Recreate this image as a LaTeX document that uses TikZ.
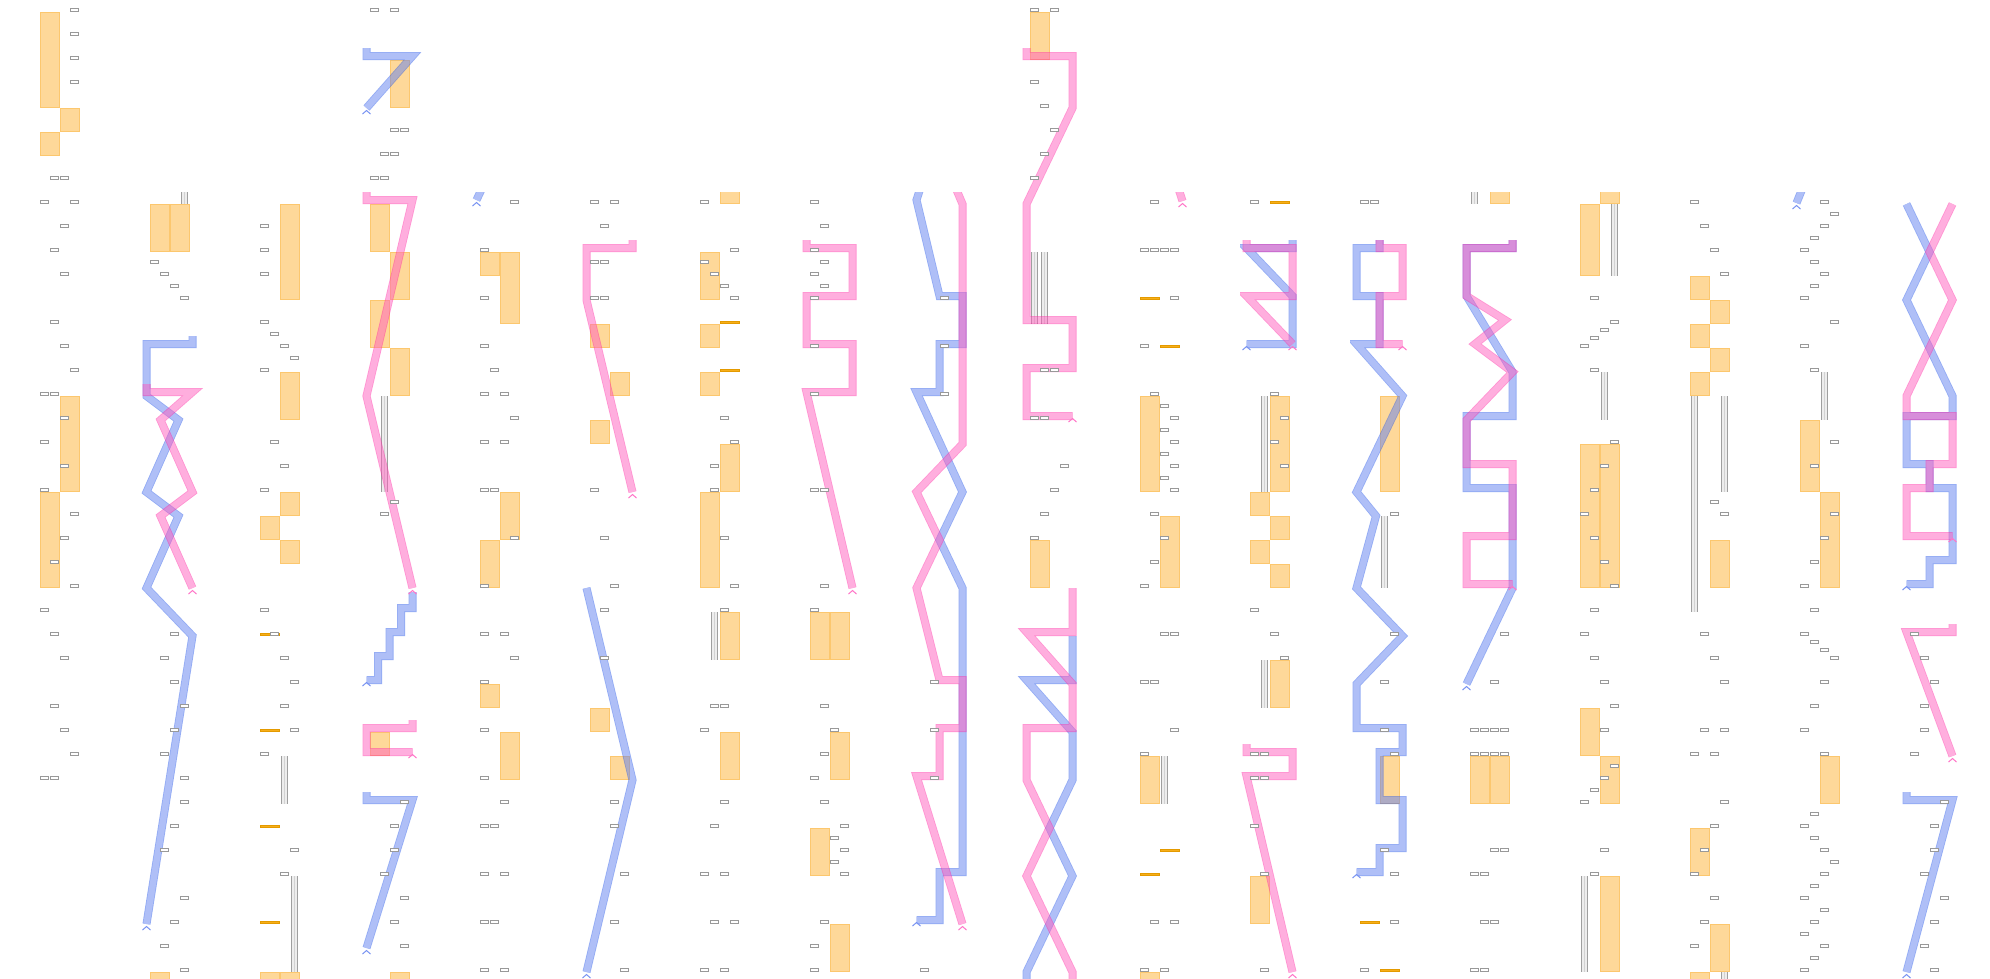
\documentclass[tikz,border=0pt]{standalone}
\definecolor{barcol}{HTML}{FED899}
\definecolor{baredge}{HTML}{FCC76E}
\definecolor{markcol}{HTML}{F6AE1A}
\definecolor{markedge}{HTML}{E49A00}
\definecolor{trackblue}{HTML}{6080F0}
\definecolor{trackpink}{HTML}{FF5EBE}
\definecolor{blueedge}{HTML}{2A5AEA}
\definecolor{pinkedge}{HTML}{FF2AA6}
\definecolor{boxedge}{HTML}{999999}
\tikzset{
  cellbox/.style={draw=boxedge,fill=white,line width=.6pt},
  orangebar/.style={fill=barcol,draw=baredge,line width=.8pt},
  markbar/.style={fill=markcol,draw=markedge,line width=.4pt},
  trackrim/.style={line width=8pt,line join=miter},
  trackcore/.style={line width=6.3pt,line join=miter},
  bluetip/.style={draw=trackblue!85,line width=1pt},
  pinktip/.style={draw=trackpink!85,line width=1pt},
}
\newcommand\bluepath[1]{\begin{scope}[transparency group,opacity=.5]\draw[trackrim,blueedge] #1;\draw[trackcore,trackblue] #1;\end{scope}}
\newcommand\pinkpath[1]{\begin{scope}[transparency group,opacity=.5]\draw[trackrim,pinkedge] #1;\draw[trackcore,trackpink] #1;\end{scope}}
\newcommand\cellboxes[1]{\foreach \lx/\ya in {#1}{\draw[cellbox] ({10*\lx+.7},{\ya-3.3}) rectangle +(8,2.6);}}
\newcommand\orangebars[1]{\foreach \lx/\ya/\yb in {#1}{\draw[orangebar] ({20*\lx+.6},{\ya+.6}) rectangle ({20*\lx+19.4},{\yb-.6});}}
\newcommand\marklines[1]{\foreach \lx/\ya in {#1}{\draw[markbar] ({20*\lx+.6},{\ya-3}) rectangle ({20*\lx+19},{\ya-1.2});}}
\newcommand\stripebars[1]{\foreach \lx/\ya/\yb in {#1}{
  \fill[gray!14] ({10*\lx+1},\ya) rectangle ({10*\lx+8},\yb);
  \draw[gray!75,line width=.9pt] ({10*\lx+1.45},\ya)--({10*\lx+1.45},\yb) ({10*\lx+7.55},\ya)--({10*\lx+7.55},\yb);
  \draw[gray!35,line width=.6pt] ({10*\lx+4.5},\ya)--({10*\lx+4.5},\yb);}}
\newcommand\tracktip[3]{\draw[#1] ({#2-4},{#3+6})--(#2,{#3+2.5})--({#2+4},{#3+6});}
\begin{document}
\begin{tikzpicture}[x=1pt,y=-1pt,line join=miter]
\useasboundingbox[fill=white] (0,0) rectangle (1990,978);
\clip (0,0) rectangle (1990,978);

\begin{scope}[shift={(40,0)}]
\orangebars{0/12/108,1/108/132,0/132/156,1/396/492,0/492/588}
\cellboxes{3/12,3/36,3/60,3/84,1/180,2/180,0/204,3/204,2/228,1/252,2/276,1/324,2/348,3/372,0/396,1/396,2/420,0/444,2/468,0/492,3/516,2/540,1/564,3/588,0/612,1/636,2/660,1/708,2/732,3/756,0/780,1/780}
\end{scope}

\begin{scope}[shift={(150,0)}]
\clip (-10,192) rectangle (60,990);
\orangebars{0/204/252,1/204/252,0/972/990}
\stripebars{3/180/204}
\bluepath{(42.5,336)--(42.5,344)--(-3.5,344)--(-3.5,396)--(28.5,420)--(-3.5,492)--(28.5,516)--(-3.5,588)--(42.5,636)--(-3.5,924)}
\pinkpath{(-3.5,384)--(-3.5,392)--(42.5,392)--(10.5,420)--(42.5,492)--(10.5,516)--(42.5,588)}
\tracktip{bluetip}{-3.5}{924}
\tracktip{pinktip}{42.5}{588}
\cellboxes{0/264,1/276,2/288,3/300,2/636,1/660,2/684,3/708,2/732,1/756,3/780,3/804,2/828,1/852,3/900,2/924,1/948,3/972}
\end{scope}

\begin{scope}[shift={(260,0)}]
\clip (-10,192) rectangle (60,990);
\orangebars{1/204/300,1/372/420,1/492/516,0/516/540,1/540/564,0/972/990,1/972/990}
\stripebars{2/756/804,3/876/972}
\marklines{0/636,0/732,0/828,0/924}
\cellboxes{0/228,0/252,0/276,0/324,1/336,2/348,3/360,0/372,1/444,2/468,0/492,0/612,1/636,2/660,3/684,2/708,3/732,0/756,3/852,2/876}
\end{scope}

\begin{scope}[shift={(370,0)}]
\orangebars{1/60/108,0/204/252,1/252/300,0/300/348,1/348/396,0/732/756,1/972/990}
\stripebars{1/396/492}
\bluepath{(-3.5,48)--(-3.5,56)--(42.5,56)--(-3.5,108)}
\bluepath{(42.5,592)--(42.5,608)--(31,608)--(31,632)--(19.5,632)--(19.5,656)--(8,656)--(8,680)--(-3.5,680)}
\bluepath{(-3.5,792)--(-3.5,800)--(42.5,800)--(-3.5,948)}
\pinkpath{(-3.5,192)--(-3.5,200)--(42.5,200)--(-3.5,396)--(42.5,588)}
\pinkpath{(42.5,720)--(42.5,728)--(-3.5,728)--(-3.5,752)--(42.5,752)}
\tracktip{bluetip}{-3.5}{108}
\tracktip{bluetip}{-3.5}{680}
\tracktip{bluetip}{-3.5}{948}
\tracktip{pinktip}{42.5}{588}
\tracktip{pinktip}{42.5}{752}
\cellboxes{0/12,2/12,2/132,3/132,1/156,2/156,0/180,1/180,2/504,1/516,3/804,2/828,2/852,1/876,3/900,2/924,3/948}
\end{scope}

\begin{scope}[shift={(480,0)}]
\clip (-10,192) rectangle (60,990);
\orangebars{0/252/276,1/252/324,1/492/540,0/540/588,0/684/708,1/732/780}
\bluepath{(5,182)--(-3.5,200)}
\tracktip{bluetip}{-3.5}{200}
\cellboxes{3/204,0/252,0/300,0/348,1/372,0/396,2/396,3/420,0/444,2/444,0/492,1/492,3/540,0/588,0/636,2/636,3/660,0/684,0/732,0/780,2/804,0/828,1/828,0/876,2/876,0/924,1/924,0/972,2/972}
\end{scope}

\begin{scope}[shift={(590,0)}]
\clip (-10,192) rectangle (60,990);
\orangebars{0/324/348,1/372/396,0/420/444,0/708/732,1/756/780}
\bluepath{(-3.5,588)--(42.5,780)--(-3.5,972)}
\pinkpath{(42.5,240)--(42.5,248)--(-3.5,248)--(-3.5,300)--(42.5,492)}
\tracktip{bluetip}{-3.5}{972}
\tracktip{pinktip}{42.5}{492}
\cellboxes{0/204,2/204,1/228,0/264,1/264,0/300,1/300,0/492,1/540,2/588,1/612,1/660,2/804,2/828,3/876,2/924,3/972}
\end{scope}

\begin{scope}[shift={(700,0)}]
\clip (-10,192) rectangle (60,990);
\orangebars{1/180/204,0/252/300,0/324/348,0/372/396,1/444/492,0/492/588,1/612/660,1/732/780}
\stripebars{1/612/660}
\marklines{1/324,1/372}
\cellboxes{0/204,3/252,0/264,1/276,2/288,3/300,2/420,3/444,1/468,1/492,2/540,3/588,2/612,1/708,2/708,0/732,2/804,1/828,0/876,2/876,1/924,3/924,0/972,2/972}
\end{scope}

\begin{scope}[shift={(810,0)}]
\clip (-10,192) rectangle (60,990);
\orangebars{0/612/660,1/612/660,1/732/780,0/828/876,1/924/972}
\pinkpath{(-3.5,240)--(-3.5,248)--(42.5,248)--(42.5,296)--(-3.5,296)--(-3.5,344)--(42.5,344)--(42.5,392)--(-3.5,392)--(42.5,588)}
\tracktip{pinktip}{42.5}{588}
\cellboxes{0/204,1/228,0/252,1/264,0/276,1/288,0/300,0/348,0/396,0/492,1/492,1/588,0/612,1/708,2/732,1/756,0/780,1/804,3/828,2/840,3/852,2/864,3/876,1/924,0/948,0/972}
\end{scope}

\begin{scope}[shift={(920,0)}]
\clip (-10,192) rectangle (60,990);
\bluepath{(3,180)--(-3.5,200)--(19.5,296)--(42.5,296)--(42.5,344)--(19.5,344)--(19.5,392)--(-3.5,392)--(42.5,492)--(19.5,540)--(42.5,588)--(42.5,872)--(19.5,872)--(19.5,920)--(-3.5,920)}
\pinkpath{(34,184)--(42.5,204)--(42.5,444)--(-3.5,492)--(19.5,540)--(-3.5,588)--(19.5,680)--(42.5,680)--(42.5,728)--(19.5,728)--(19.5,776)--(-3.5,776)--(42.5,924)}
\tracktip{bluetip}{-3.5}{920}
\tracktip{pinktip}{42.5}{924}
\cellboxes{2/300,2/348,2/396,1/684,1/732,1/780,0/972}
\end{scope}

\begin{scope}[shift={(1030,0)}]
\orangebars{0/12/60,0/540/588}
\stripebars{0/252/324,1/252/324}
\bluepath{(42.5,636)--(42.5,680)--(-3.5,680)--(42.5,732)--(42.5,780)--(19.5,828)--(42.5,876)--(-3.5,972)--(-3.5,990)}
\pinkpath{(-3.5,48)--(-3.5,56)--(42.5,56)--(42.5,108)--(-3.5,204)--(-3.5,320)--(42.5,320)--(42.5,368)--(-3.5,368)--(-3.5,416)--(42.5,416)}
\pinkpath{(42.5,588)--(42.5,632)--(-3.5,632)--(42.5,684)--(42.5,728)--(-3.5,728)--(-3.5,780)--(19.5,828)--(-3.5,876)--(42.5,972)--(42.5,990)}
\tracktip{pinktip}{42.5}{416}
\cellboxes{0/12,2/12,0/84,1/108,2/132,1/156,0/180,1/372,2/372,0/420,1/420,3/468,2/492,1/516,0/540}
\end{scope}

\begin{scope}[shift={(1140,0)}]
\clip (-10,192) rectangle (60,990);
\orangebars{0/396/492,1/516/588,0/756/804,0/972/990}
\stripebars{2/756/804}
\marklines{0/300,1/348,1/852,0/876}
\pinkpath{(37,184)--(42.5,201)}
\tracktip{pinktip}{42.5}{201}
\cellboxes{1/204,0/252,1/252,2/252,3/252,3/300,0/348,1/396,2/408,3/420,2/432,3/444,2/456,3/468,2/480,3/492,1/516,2/540,1/564,0/588,2/636,3/636,0/684,1/684,3/732,0/756,1/924,3/924,0/972,2/972}
\end{scope}

\begin{scope}[shift={(1250,0)}]
\clip (-10,192) rectangle (60,990);
\orangebars{1/396/492,0/492/516,1/516/540,0/540/564,1/564/588,1/660/708,0/876/924}
\stripebars{1/396/492,1/660/708}
\marklines{1/204}
\bluepath{(42.5,240)--(42.5,248)--(-3.5,248)--(42.5,296)--(42.5,344)--(-3.5,344)}
\pinkpath{(-3.5,240)--(-3.5,248)--(42.5,248)--(42.5,296)--(-3.5,296)--(42.5,344)}
\pinkpath{(-3.5,744)--(-3.5,752)--(42.5,752)--(42.5,776)--(-3.5,776)--(42.5,972)}
\tracktip{bluetip}{-3.5}{344}
\tracktip{pinktip}{42.5}{344}
\tracktip{pinktip}{42.5}{972}
\cellboxes{0/204,2/396,3/420,2/444,3/468,0/612,2/636,3/660,0/756,1/756,0/780,1/780,0/828,1/876,1/972}
\end{scope}

\begin{scope}[shift={(1360,0)}]
\clip (-10,192) rectangle (60,990);
\orangebars{1/396/492,1/756/804}
\stripebars{2/516/588}
\marklines{0/924,1/972}
\bluepath{(19.5,240)--(19.5,248)--(-3.5,248)--(-3.5,296)--(19.5,296)--(19.5,344)--(-3.5,344)--(42.5,396)--(-3.5,492)--(16,516)--(-3.5,588)--(42.5,636)--(-3.5,684)--(-3.5,728)--(42.5,728)--(42.5,752)--(19.5,752)--(19.5,800)--(42.5,800)--(42.5,848)--(19.5,848)--(19.5,872)--(-3.5,872)}
\pinkpath{(19.5,240)--(19.5,248)--(42.5,248)--(42.5,296)--(19.5,296)--(19.5,344)--(42.5,344)}
\tracktip{bluetip}{-3.5}{872}
\tracktip{pinktip}{42.5}{344}
\cellboxes{0/204,1/204,3/516,3/636,2/684,2/732,3/756,2/852,3/876,3/924,0/972}
\end{scope}

\begin{scope}[shift={(1470,0)}]
\clip (-10,192) rectangle (60,990);
\orangebars{1/180/204,0/756/804,1/756/804}
\stripebars{0/180/204}
\bluepath{(42.5,240)--(42.5,248)--(-3.5,248)--(-3.5,296)--(42.5,372)--(42.5,416)--(-3.5,416)--(-3.5,488)--(42.5,488)--(42.5,588)--(-3.5,684)}
\pinkpath{(42.5,240)--(42.5,248)--(-3.5,248)--(-3.5,296)--(35,320)--(5,344)--(42.5,372)--(-3.5,420)--(-3.5,464)--(42.5,464)--(42.5,536)--(-3.5,536)--(-3.5,584)--(42.5,584)}
\tracktip{bluetip}{-3.5}{684}
\tracktip{pinktip}{42.5}{584}
\cellboxes{3/636,2/684,0/732,1/732,2/732,3/732,0/756,1/756,2/756,3/756,2/852,3/852,0/876,1/876,1/924,2/924,0/972,1/972}
\end{scope}

\begin{scope}[shift={(1580,0)}]
\clip (-10,192) rectangle (60,990);
\orangebars{1/180/204,0/204/276,0/444/588,1/444/588,0/708/756,1/756/804,1/876/972}
\stripebars{3/204/276,2/372/420,0/876/972}
\cellboxes{1/300,3/324,2/332,1/340,0/348,1/372,3/444,2/468,1/492,0/516,1/540,2/564,3/588,1/612,0/636,1/660,2/684,3/708,2/732,3/768,2/780,1/792,0/804,2/852,1/876}
\end{scope}

\begin{scope}[shift={(1690,0)}]
\clip (-10,192) rectangle (60,990);
\orangebars{0/276/300,1/300/324,0/324/348,1/348/372,0/372/396,1/540/588,0/828/876,1/924/972,0/972/990}
\stripebars{0/396/612,3/396/492,3/972/990}
\cellboxes{0/204,1/228,2/252,3/276,2/504,3/516,1/636,2/660,3/684,1/732,3/732,0/756,2/756,3/804,2/828,1/852,0/876,2/900,1/924,0/948}
\end{scope}

\begin{scope}[shift={(1800,0)}]
\clip (-10,192) rectangle (60,990);
\orangebars{0/420/492,1/492/588,1/756/804}
\stripebars{2/372/420}
\bluepath{(5,182)--(-3.5,203)}
\tracktip{bluetip}{-3.5}{203}
\cellboxes{2/204,3/216,2/228,1/240,0/252,1/264,2/276,1/288,0/300,3/324,0/348,1/372,3/444,1/468,3/516,2/540,1/564,0/588,1/612,0/636,1/644,2/652,3/660,2/684,1/708,0/732,2/756,1/816,0/828,1/840,2/852,3/864,2/876,1/888,0/900,2/912,1/924,0/936,2/948,1/960,0/972}
\end{scope}

\begin{scope}[shift={(1910,0)}]
\clip (-10,192) rectangle (60,990);
\bluepath{(-3.5,204)--(19.5,252)--(-3.5,300)--(42.5,396)--(42.5,416)--(-3.5,416)--(-3.5,464)--(19.5,464)--(19.5,488)--(42.5,488)--(42.5,560)--(19.5,560)--(19.5,584)--(-3.5,584)}
\bluepath{(-3.5,792)--(-3.5,800)--(42.5,800)--(-3.5,972)}
\pinkpath{(42.5,204)--(19.5,252)--(42.5,300)--(-3.5,396)--(-3.5,416)--(42.5,416)--(42.5,464)--(19.5,464)--(19.5,488)--(-3.5,488)--(-3.5,536)--(42.5,536)}
\pinkpath{(42.5,624)--(42.5,632)--(-3.5,632)--(42.5,756)}
\tracktip{bluetip}{-3.5}{584}
\tracktip{bluetip}{-3.5}{972}
\tracktip{pinktip}{42.5}{536}
\tracktip{pinktip}{42.5}{756}
\cellboxes{0/636,1/660,2/684,1/708,1/732,0/756,3/804,2/828,2/852,1/876,3/900,2/924,1/948,2/972}
\end{scope}
\end{tikzpicture}
\end{document}
